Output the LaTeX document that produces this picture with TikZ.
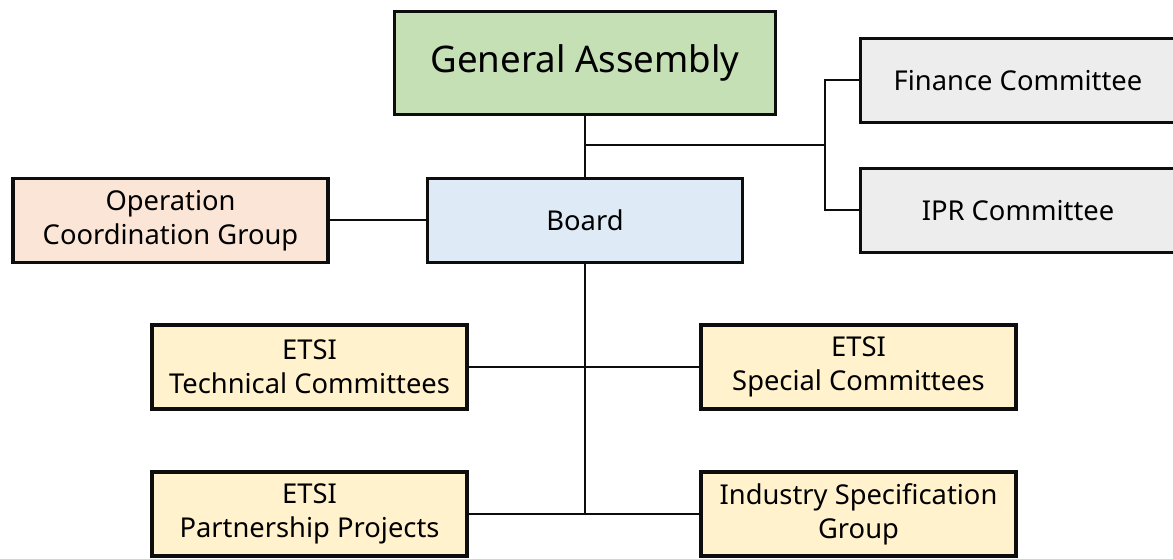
\documentclass[tikz,border=0pt]{standalone}
\usepackage{fontspec}
\setmainfont{Noto Sans}
\definecolor{gagreen}{HTML}{C5E0B4}
\definecolor{boxgray}{HTML}{EDEDED}
\definecolor{ocgpeach}{HTML}{FBE5D6}
\definecolor{boardblue}{HTML}{DEEBF7}
\definecolor{etsiyellow}{HTML}{FFF2CC}
\definecolor{edge}{HTML}{0D0D0D}
\tikzset{
  orgbox/.style={draw=edge, line width=2.6pt, rectangle, align=center,
    minimum width=236pt, minimum height=63pt, inner sep=0pt,
    font=\fontsize{20.5}{25.5}\selectfont},
  conn/.style={draw=edge, line width=1.5pt}
}
\begin{document}
\begin{tikzpicture}[x=0.75pt,y=-0.75pt]
\clip (0,0) rectangle (1173,559);
\fill[white] (0,0) rectangle (1173,559);
\node[orgbox, fill=gagreen, minimum width=285.75pt, minimum height=77.25pt,
  font=\fontsize{27.5}{32}\selectfont] (ga) at (585,63) {General Assembly};
\node[orgbox, fill=boxgray] (fin) at (1018,80.5) {Finance Committee};
\node[orgbox, fill=boxgray] (ipr) at (1018,210.5) {IPR Committee};
\node[orgbox, fill=ocgpeach] (ocg) at (170.5,220.5) {Operation\\Coordination Group};
\node[orgbox, fill=boardblue] (board) at (585,220.5) {Board};
\node[orgbox, fill=etsiyellow] (tc) at (309.5,367) {ETSI\\Technical Committees};
\node[orgbox, fill=etsiyellow] (sc) at (858.5,367) {ETSI\\Special Committees};
\node[orgbox, fill=etsiyellow] (pp) at (309.5,514) {ETSI\\Partnership Projects};
\node[orgbox, fill=etsiyellow] (isg) at (858.5,514) {Industry Specification\\Group};
\coordinate (j1) at (585,145.5);
\coordinate (j2) at (825,145.5);
\coordinate (j3) at (585,515);
\draw[conn] (ga.south) -- (board.north);
\draw[conn] (j1) -- (j2);
\draw[conn] (fin.west) -| (j2) |- (ipr.west);
\draw[conn] (ocg.east) -- (board.west);
\draw[conn] (board.south) -- (j3);
\draw[conn] (tc.east) -- (sc.west);
\draw[conn] (pp.east) -- (isg.west);
\end{tikzpicture}
\end{document}
